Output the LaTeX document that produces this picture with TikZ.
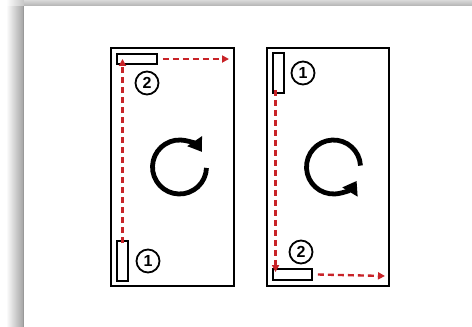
\documentclass[tikz,border=0pt]{standalone}
\usepackage{fontspec}
\setmainfont{Liberation Sans}
\usetikzlibrary{arrows.meta,positioning}

\definecolor{movered}{RGB}{200,35,40}

\begin{document}
\begin{tikzpicture}[x=1pt, y=-1pt,
    panel/.style={draw, line width=2.4pt, inner sep=0pt},
    part/.style={draw, line width=1.9pt, inner sep=0pt},
    num/.style={circle, draw, line width=1.8pt, inner sep=0pt,
      minimum size=23pt, font=\bfseries\fontsize{16}{16}\selectfont},
    move/.style={draw=movered, line width=2.4pt,
      dash pattern=on 6pt off 4pt,
      -{Triangle[length=7pt,width=7pt,fill=movered]}},
    turn/.style={line width=4.8pt, -{Triangle[length=13pt,width=17pt]}}
  ]

% page with shadow
  \useasboundingbox (0,0) rectangle (472,327);
  \shade[left color=white, right color=gray!45] (6,0) rectangle (24,6);
  \shade[top color=gray!30, bottom color=gray!60] (24,0) rectangle (472,6);
  \shade[left color=white, right color=gray!70] (6,6) rectangle (23,327);
  \fill[white] (24,6) rectangle (472,327);
  \draw[gray!80, line width=1pt] (23.5,6) -- (23.5,327);

% --- left panel: (1) bottom left, (2) top left ---
  \node[panel, minimum width=123pt, minimum height=238pt] (pl) at (172.5,167) {};
  \node[part, minimum width=11pt, minimum height=40pt] (lb) at (122.5,261) {};
  \node[part, minimum width=40pt, minimum height=10pt] (lt) at (137,59) {};
  \node[num] (l1) at (148,261) {1};
  \node[num] (l2) at (147,83) {2};
  \coordinate (lend) at (229,59);

  \draw[move] ([yshift=-3pt]lb.north) -- ([yshift=6pt]lb.north |- lt.south);
  \draw[move] ([xshift=5pt]lt.east) -- (lend);

  \coordinate (lc) at (179.5,167);
  \draw[turn] ([shift={(2:27)}]lc) arc[start angle=2, end angle=326, radius=27];

% --- right panel: (1) top left, (2) bottom left ---
  \node[panel, minimum width=122pt, minimum height=238pt] (pr) at (328,167) {};
  \node[part, minimum width=11pt, minimum height=40pt] (rt) at (278.5,73) {};
  \node[part, minimum width=39pt, minimum height=11pt] (rb) at (292.5,274.5) {};
  \node[num] (r1) at (303,73) {1};
  \node[num] (r2) at (301,252) {2};
  \coordinate (rend) at (385,276);

  \draw[move] ([yshift=4pt]rt.south -| rb.west) ++(3.5pt,0) -- ([xshift=3.5pt,yshift=-4pt]rb.north west);
  \draw[move] ([xshift=5pt]rb.east) -- (rend);

  \coordinate (rc) at (333.5,167);
  \draw[turn] ([shift={(-3:27)}]rc) arc[start angle=-3, end angle=-329, radius=27];

\end{tikzpicture}
\end{document}
